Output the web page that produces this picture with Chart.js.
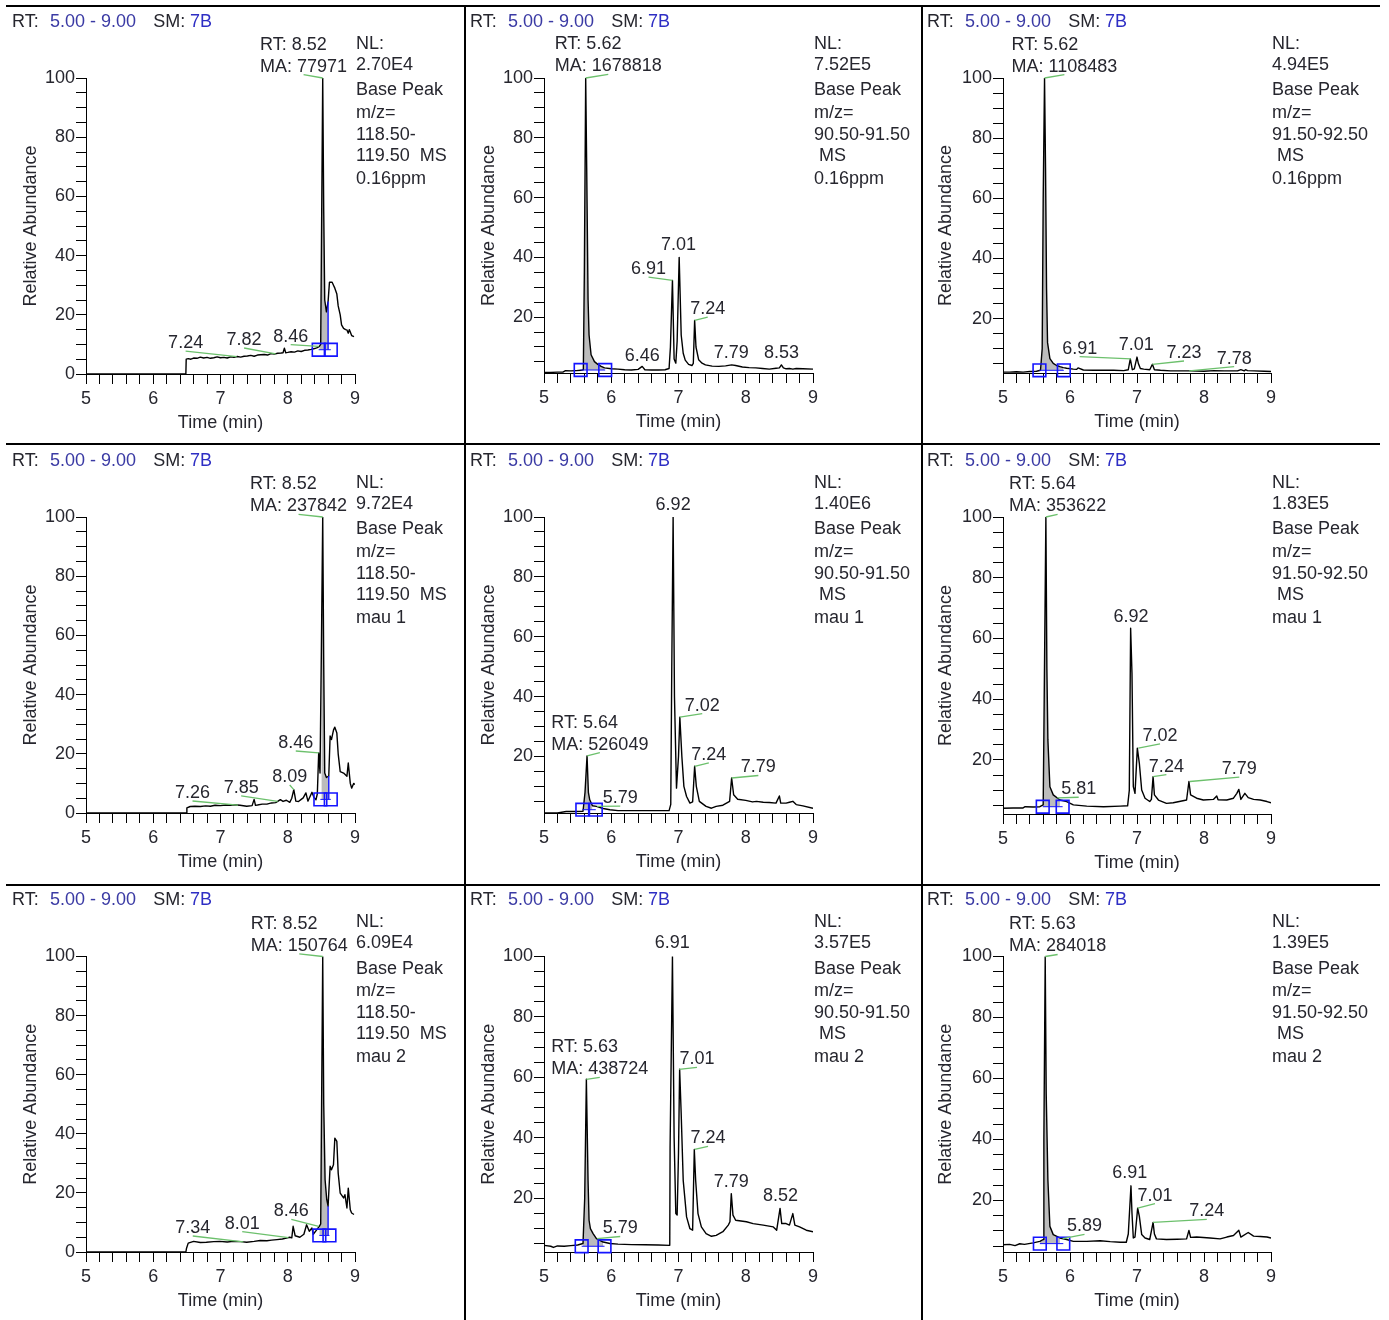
<!DOCTYPE html>
<html lang="en">
<head>
<meta charset="utf-8">
<title>Base peak chromatograms</title>
<script src="https://cdn.jsdelivr.net/npm/chart.js@4.4.1/dist/chart.umd.min.js"></script>
<style>
  body { margin: 0; background: #fff; }
  #wrap { position: relative; width: 1389px; height: 1320px; overflow: hidden; background: #fff; }
  #wrap canvas { position: absolute; }
  .rule { position: absolute; background: #000; }
</style>
</head>
<body>
<div id="wrap"></div>
<script>
// ---- data: retention time (min) / relative abundance (%) per panel ----
const t1 = [5.00, 6.485, 6.49, 6.52, 6.56, 6.60, 6.65, 6.70, 6.75, 6.80, 6.85, 6.90, 6.95, 7.00, 7.05, 7.10, 7.15, 7.20, 7.25, 7.30, 7.35, 7.40, 7.45, 7.50, 7.55, 7.60, 7.65, 7.70, 7.75, 7.80, 7.85, 7.90, 7.93, 7.95, 7.97, 8.00, 8.05, 8.10, 8.15, 8.20, 8.25, 8.30, 8.35, 8.40, 8.44, 8.47, 8.49, 8.505, 8.52, 8.535, 8.55, 8.575, 8.60, 8.62, 8.66, 8.68, 8.70, 8.73, 8.75, 8.78, 8.80, 8.83, 8.86, 8.88, 8.90, 8.915, 8.93, 8.95, 8.985];
const a1 = [0, 0, 5.0, 5.2, 5.0, 5.4, 5.3, 5.7, 5.4, 5.6, 5.3, 5.5, 5.8, 5.5, 5.6, 5.4, 5.8, 5.6, 5.9, 5.7, 6.0, 6.1, 6.3, 6.0, 6.4, 6.5, 6.6, 6.4, 6.9, 6.7, 7.0, 7.1, 7.2, 8.7, 7.2, 7.3, 7.5, 7.4, 7.8, 7.6, 8.0, 8.1, 8.3, 8.6, 8.9, 9.3, 10.0, 55, 100, 55, 25, 21, 24.5, 31, 31, 30, 29, 27, 23, 20, 16.6, 15.4, 15.0, 14.9, 13.8, 15.0, 14.2, 13.0, 12.6];

const t2 = [5.00, 5.10, 5.20, 5.28, 5.32, 5.40, 5.48, 5.55, 5.585, 5.60, 5.62, 5.635, 5.655, 5.67, 5.70, 5.75, 5.80, 5.85, 5.90, 6.00, 6.10, 6.20, 6.30, 6.40, 6.46, 6.50, 6.60, 6.70, 6.80, 6.86, 6.88, 6.91, 6.935, 6.96, 6.98, 7.01, 7.04, 7.07, 7.10, 7.15, 7.20, 7.22, 7.24, 7.26, 7.30, 7.35, 7.40, 7.50, 7.60, 7.70, 7.79, 7.85, 7.95, 8.05, 8.15, 8.25, 8.35, 8.45, 8.50, 8.53, 8.56, 8.60, 8.65, 8.70, 8.75, 8.85, 9.00];
const a2 = [1.5, 1.5, 1.6, 1.6, 2.1, 2.0, 2.1, 2.2, 2.4, 35, 100, 70, 26, 14, 7.4, 5.1, 4.2, 3.5, 3.0, 2.7, 2.6, 2.4, 2.3, 2.5, 3.5, 2.4, 2.3, 2.3, 2.4, 2.8, 10, 32.3, 6, 4.6, 12, 40, 14, 7.9, 5.6, 4.2, 3.8, 4.5, 18.9, 10, 5.7, 4.6, 4.0, 3.6, 3.5, 3.7, 4.0, 3.8, 3.3, 3.1, 3.0, 2.8, 2.6, 2.9, 3.0, 4.0, 3.0, 2.7, 2.8, 2.6, 2.8, 2.7, 2.6];

const t3 = [5.00, 5.10, 5.20, 5.30, 5.40, 5.50, 5.56, 5.585, 5.60, 5.62, 5.635, 5.65, 5.665, 5.70, 5.75, 5.80, 5.85, 5.90, 5.95, 6.05, 6.10, 6.12, 6.20, 6.35, 6.50, 6.65, 6.80, 6.87, 6.90, 6.93, 6.96, 7.00, 7.02, 7.05, 7.10, 7.19, 7.23, 7.26, 7.35, 7.50, 7.65, 7.80, 8.00, 8.15, 8.30, 8.50, 8.55, 8.60, 8.62, 8.65, 8.75, 8.90, 9.00];
const a3 = [2.2, 2.2, 2.3, 2.2, 2.4, 2.5, 2.8, 10, 60, 100, 70, 30, 12, 6.7, 5.1, 4.4, 4.0, 3.7, 3.5, 3.2, 3.1, 3.6, 2.9, 2.8, 2.8, 2.8, 2.7, 3.0, 6.6, 3.0, 3.3, 7.2, 5.1, 3.4, 3.2, 3.0, 4.8, 3.0, 2.8, 2.6, 2.6, 2.6, 2.5, 2.7, 2.6, 2.6, 3.0, 2.6, 3.0, 2.7, 2.6, 2.5, 2.4];

const t4 = [5.00, 6.49, 6.50, 6.55, 6.62, 6.70, 6.78, 6.85, 6.92, 7.00, 7.08, 7.15, 7.20, 7.29, 7.39, 7.47, 7.50, 7.52, 7.55, 7.62, 7.69, 7.76, 7.82, 7.85, 7.89, 7.93, 7.98, 8.03, 8.06, 8.09, 8.12, 8.16, 8.20, 8.23, 8.27, 8.30, 8.33, 8.36, 8.39, 8.42, 8.44, 8.46, 8.48, 8.50, 8.52, 8.535, 8.55, 8.575, 8.61, 8.63, 8.65, 8.68, 8.70, 8.73, 8.75, 8.78, 8.83, 8.88, 8.90, 8.93, 8.95, 8.98, 9.00];
const a4 = [0, 0, 1.7, 2.2, 2.3, 2.2, 2.4, 2.3, 2.6, 2.5, 2.7, 2.6, 2.8, 2.6, 2.3, 2.5, 4.6, 2.6, 2.7, 3.0, 3.0, 3.4, 3.5, 3.9, 4.5, 3.9, 4.3, 3.6, 5.0, 7.9, 4.0, 3.9, 4.6, 5.1, 6.8, 4.0, 5.5, 7.0, 5.2, 4.5, 6.5, 20.3, 13.5, 55, 100, 50, 13.5, 12, 12.5, 26, 24.8, 28, 29, 27, 20, 14, 13.5, 12.4, 16.9, 10, 8.4, 10, 9.6];

const t5 = [5.00, 5.20, 5.33, 5.45, 5.58, 5.61, 5.64, 5.66, 5.68, 5.72, 5.78, 5.88, 5.98, 6.10, 6.30, 6.50, 6.70, 6.86, 6.885, 6.90, 6.92, 6.94, 6.97, 7.00, 7.02, 7.05, 7.08, 7.12, 7.17, 7.21, 7.24, 7.265, 7.31, 7.41, 7.49, 7.56, 7.66, 7.76, 7.79, 7.82, 7.88, 8.00, 8.10, 8.16, 8.26, 8.35, 8.45, 8.50, 8.52, 8.60, 8.65, 8.70, 8.75, 8.85, 9.00];
const a5 = [1.1, 1.1, 1.6, 1.6, 1.7, 8, 20.2, 8, 5.5, 3.5, 3.3, 2.6, 2.2, 1.9, 1.9, 1.9, 1.9, 1.9, 4, 50, 100, 40, 9.4, 20, 33.1, 20, 10, 6.6, 4.4, 4.8, 16.7, 10, 5.0, 3.3, 2.7, 3.3, 3.7, 5.0, 12.8, 7.2, 5.7, 5.3, 4.8, 5.0, 4.7, 4.6, 4.4, 6.8, 4.4, 4.4, 4.7, 5.0, 3.9, 3.5, 2.7];

const t6 = [5.00, 5.15, 5.30, 5.33, 5.45, 5.55, 5.60, 5.615, 5.64, 5.655, 5.67, 5.70, 5.75, 5.85, 5.95, 6.05, 6.25, 6.50, 6.75, 6.86, 6.885, 6.905, 6.925, 6.945, 6.97, 7.005, 7.035, 7.07, 7.12, 7.19, 7.215, 7.24, 7.26, 7.32, 7.44, 7.54, 7.65, 7.74, 7.775, 7.80, 7.89, 7.99, 8.14, 8.19, 8.21, 8.34, 8.44, 8.49, 8.52, 8.55, 8.61, 8.66, 8.74, 8.84, 8.94, 9.00];
const a6 = [4.1, 4.2, 4.2, 4.6, 4.5, 4.6, 5.2, 40, 100, 50, 26.6, 11.2, 8.5, 6.8, 6.3, 5.2, 4.8, 4.6, 4.8, 4.9, 10, 63.4, 48.6, 11.2, 9.0, 23.9, 18.9, 10.1, 7.4, 6.3, 7, 14.5, 8.5, 6.8, 5.7, 5.9, 6.4, 6.8, 12.9, 8.5, 7.4, 6.8, 7.0, 8.1, 6.9, 6.8, 7.4, 9.0, 10.3, 7.0, 9.0, 7.6, 7.0, 6.8, 6.3, 5.9];

const t7 = [5.00, 6.485, 6.495, 6.52, 6.60, 6.70, 6.79, 6.90, 6.99, 7.10, 7.19, 7.30, 7.39, 7.50, 7.59, 7.69, 7.76, 7.84, 7.92, 7.98, 8.03, 8.06, 8.08, 8.11, 8.18, 8.24, 8.28, 8.32, 8.36, 8.38, 8.43, 8.47, 8.49, 8.505, 8.52, 8.535, 8.555, 8.58, 8.60, 8.63, 8.65, 8.68, 8.70, 8.73, 8.75, 8.78, 8.83, 8.85, 8.88, 8.90, 8.93, 8.95, 8.985];
const a7 = [0, 0, 1.3, 3.0, 3.6, 3.2, 3.3, 3.5, 3.6, 3.4, 3.6, 3.5, 3.3, 3.6, 3.9, 3.8, 4.0, 4.2, 4.4, 4.7, 5.0, 4.8, 8.7, 5.5, 5.0, 6.0, 9.2, 7.0, 8.1, 6.0, 7.5, 8.7, 9.5, 55, 100, 50, 24.5, 17.7, 15.5, 29, 27.8, 29.5, 38.5, 37.4, 26.7, 19.9, 18.3, 19.4, 14.9, 21.6, 14.3, 13.2, 12.7];

const t8 = [5.00, 5.10, 5.14, 5.20, 5.30, 5.40, 5.50, 5.58, 5.605, 5.63, 5.655, 5.67, 5.69, 5.73, 5.78, 5.88, 5.98, 6.10, 6.30, 6.50, 6.70, 6.87, 6.875, 6.91, 6.935, 6.96, 6.98, 7.00, 7.017, 7.04, 7.07, 7.12, 7.17, 7.21, 7.235, 7.255, 7.29, 7.34, 7.41, 7.49, 7.56, 7.66, 7.74, 7.765, 7.785, 7.81, 7.85, 8.01, 8.11, 8.26, 8.41, 8.46, 8.51, 8.535, 8.60, 8.65, 8.70, 8.73, 8.80, 8.90, 9.00];
const a8 = [4.5, 4.2, 3.8, 4.3, 4.2, 4.4, 4.6, 5.1, 20, 59.4, 26, 12.8, 10, 8.4, 6.7, 5.6, 5.1, 4.9, 4.75, 4.7, 4.6, 4.5, 37, 100, 40, 15, 14.5, 35, 62.7, 48, 26, 13.9, 10, 9.5, 36.2, 26, 15, 10.6, 8.4, 7.5, 7.8, 9.0, 11.2, 12.3, 21.6, 14.5, 12.8, 12.3, 11.7, 11.2, 10.6, 9.5, 16.7, 11.7, 11.7, 11.2, 15, 11.2, 10.6, 9.5, 9.0];

const t9 = [5.00, 5.10, 5.18, 5.25, 5.32, 5.45, 5.55, 5.60, 5.61, 5.63, 5.645, 5.67, 5.70, 5.75, 5.85, 5.95, 6.05, 6.25, 6.45, 6.60, 6.75, 6.84, 6.87, 6.91, 6.925, 6.945, 6.97, 7.01, 7.035, 7.07, 7.12, 7.19, 7.24, 7.26, 7.29, 7.44, 7.60, 7.74, 7.775, 7.80, 7.89, 8.09, 8.24, 8.34, 8.44, 8.52, 8.55, 8.66, 8.74, 8.84, 8.94, 9.00];
const a9 = [5.5, 5.6, 5.2, 5.8, 5.6, 6.1, 6.6, 7.2, 40, 100, 55, 26.8, 11.5, 8.8, 7.7, 7.2, 6.6, 6.6, 6.8, 6.5, 6.3, 6.3, 9, 24.8, 15.9, 7.7, 8.0, 17.5, 14.8, 8.8, 7.7, 7.2, 12.8, 9, 7.4, 7.2, 7.3, 7.4, 10.2, 7.9, 8.0, 7.7, 7.4, 8.0, 8.5, 10.2, 8.0, 9.5, 8.3, 8.2, 8.0, 7.7];

// labelled peak retention times
const peaks1 = [7.24, 7.82, 8.46];
const peaks2 = [6.46, 6.91, 7.01, 7.24, 7.79, 8.53];
const peaks3 = [6.91, 7.01, 7.23, 7.78];
const peaks4 = [7.26, 7.85, 8.09, 8.46];
const peaks5 = [5.79, 6.92, 7.02, 7.24, 7.79];
const peaks6 = [5.81, 6.92, 7.02, 7.24, 7.79];
const peaks7 = [7.34, 8.01, 8.46];
const peaks8 = [5.79, 6.91, 7.01, 7.24, 7.79, 8.52];
const peaks9 = [5.89, 6.91, 7.01, 7.24];

// integrated peak: RT, area, start/end, baseline level, drop line
const maRt = [8.52, 5.62, 5.62, 8.52, 5.64, 5.64, 8.52, 5.63, 5.63];
const maArea = [77971, 1678818, 1108483, 237842, 526049, 353622, 150764, 438724, 284018];
const areaStart = [8.46, 5.545, 5.544, 8.485, 5.57, 5.593, 8.47, 5.56, 5.55];
const areaEnd = [8.64, 5.91, 5.908, 8.64, 5.77, 5.89, 8.62, 5.90, 5.90];
const areaBase = [8.2, 2.3, 2.8, 4.6, 2.2, 4.6, 5.6, 4.2, 5.85];
const dropRt = [8.60, null, null, 8.61, null, null, 8.60, null, null];

// side text
const nlValue = ['2.70E4', '7.52E5', '4.94E5', '9.72E4', '1.40E6', '1.83E5', '6.09E4', '3.57E5', '1.39E5'];
const mzLine1 = ['118.50-', '90.50-91.50', '91.50-92.50', '118.50-', '90.50-91.50', '91.50-92.50', '118.50-', '90.50-91.50', '91.50-92.50'];
const mzLine2 = ['119.50  MS', ' MS', ' MS', '119.50  MS', ' MS', ' MS', '119.50  MS', ' MS', ' MS'];
const sample = ['0.16ppm', '0.16ppm', '0.16ppm', 'mau 1', 'mau 1', 'mau 1', 'mau 2', 'mau 2', 'mau 2'];
const rtRange = '5.00 - 9.00';
const smooth = '7B';

// axis ticks
const xTickMarks = [5.0, 5.2, 5.4, 5.6, 5.8, 6.0, 6.2, 6.4, 6.6, 6.8, 7.0, 7.2, 7.4, 7.6, 7.8, 8.0, 8.2, 8.4, 8.6, 8.8, 9.0];
const yTickMarks = [0, 5, 10, 15, 20, 25, 30, 35, 40, 45, 50, 55, 60, 65, 70, 75, 80, 85, 90, 95, 100];
const yMin = [0, 1.3, 1.9, 0, 1.1, 2.2, 0, 2.3, 3.1];

// ---- layout / style ----
const times = [t1, t2, t3, t4, t5, t6, t7, t8, t9];
const abund = [a1, a2, a3, a4, a5, a6, a7, a8, a9];
const peaks = [peaks1, peaks2, peaks3, peaks4, peaks5, peaks6, peaks7, peaks8, peaks9];

// label centre offsets from the peak apex, px
const place = [
  [[-51, -13.5], [-31.6, -13.8], [-28, -9.8]],
  [[0, -10.4], [-23.9, -11.2], [-0.7, -12.5], [13.1, -11.2], [-0.3, -12.3], [0, -12.3]],
  [[-51.3, -10.3], [-1.4, -11.8], [31.6, -11.3], [44.9, -12.3]],
  [[-45.5, -12.1], [-36.5, -13.5], [-4.1, -12.6], [-22.9, -9.9]],
  [[23.1, -8.3], [0, -12.3], [22.4, -11.5], [14.2, -11.5], [26.7, -10.5]],
  [[21.4, -8.7], [-0.7, -11.6], [21.7, -12.2], [13.3, -10], [49.4, -12.3]],
  [[-50.6, -13.9], [-46.2, -13.9], [-27.4, -14.9]],
  [[23.1, -10.2], [-0.2, -13.4], [17.8, -10], [13.4, -11.1], [-0.3, -11.8], [-0.2, -12.3]],
  [[21.9, -12.3], [-1.3, -12.7], [17.3, -12.4], [53.7, -11]]
];
// MA block: left edge / MA line centre from apex
const maPlace = [[-62.7, -11.3], [-31, -11.6], [-33, -11.3], [-72.7, -10.6], [-35.7, -11.1], [-36.8, -10.6], [-72, -10.7], [-35.1, -10], [-36.1, -10]];

const colX = [0, 465, 923], colW = [464, 457, 466];
const rowY = [7, 446, 886], cellH = 436;
const areaL = [86, 544, 1003], areaR = [355, 813, 1271], areaT = [78, 517, 956.5];
const areaB = [374, 373, 373, 813, 813, 814, 1252, 1252, 1252];
const YW = 70, XH = 60;
const yTitlePad = [4.2, 4.2, 2.2];
const headDx = [74, 74, 76];
const nlOffsets = [-34, -13, 12.5, 35, 57, 78, 101];

const textColor = '#26262e';
const blue = '#1414ff';
const green = '#6cc06c';
const FONT = '"Liberation Sans", Arial, sans-serif';

Chart.defaults.font.family = FONT;
Chart.defaults.font.size = 18;
Chart.defaults.color = textColor;
Chart.defaults.animation = false;

function interp(T, A, t) {
  for (let k = 1; k < T.length; k++) {
    if (T[k] >= t) {
      const f = (t - T[k - 1]) / (T[k] - T[k - 1]);
      return A[k - 1] + f * (A[k] - A[k - 1]);
    }
  }
  return A[A.length - 1];
}
// apex value used for a label: highest point close to the RT
function apexAt(T, A, t) {
  let best = null;
  for (let k = 0; k < T.length; k++) {
    if (Math.abs(T[k] - t) <= 0.016 && (best === null || A[k] > best)) best = A[k];
  }
  return best === null ? interp(T, A, t) : best;
}

const annotate = {
  id: 'annotate',
  afterDatasetsDraw(chart, args, opts) {
    const i = opts.panel, col = i % 3;
    const T = times[i], A = abund[i];
    const ctx = chart.ctx, xs = chart.scales.x, ys = chart.scales.y, ca = chart.chartArea;
    ctx.save();
    ctx.font = '18px ' + FONT;
    ctx.textBaseline = 'middle';
    ctx.textAlign = 'left';

    // header line
    const hx = ca.left - headDx[col], hy = ca.top - 56;
    [['RT:', textColor, 0], [rtRange, '#3a3aa4', 38], ['SM:', textColor, 141.3], [smooth, '#2e2ec4', 178]]
      .forEach(([s, c, off]) => { ctx.fillStyle = c; ctx.fillText(s, hx + off, hy); });

    // NL block
    ctx.fillStyle = textColor;
    ['NL:', nlValue[i], 'Base Peak', 'm/z=', mzLine1[i], mzLine2[i], sample[i]]
      .forEach((s, k) => ctx.fillText(s, ca.right + 1, ca.top + nlOffsets[k]));

    ctx.strokeStyle = green;
    ctx.lineWidth = 1.3;
    const leader = (x0, y0, x1, y1) => {
      ctx.beginPath(); ctx.moveTo(x0, y0); ctx.lineTo(x1, y1); ctx.stroke();
    };

    // integrated peak label
    const mx = xs.getPixelForValue(maRt[i]);
    const my = ys.getPixelForValue(apexAt(T, A, maRt[i]));
    const left = mx + maPlace[i][0], maY = my + maPlace[i][1];
    const maText = 'MA: ' + maArea[i];
    const w = ctx.measureText(maText).width;
    leader(mx, my, left + w / 2, maY + 8);
    ctx.fillStyle = textColor;
    ctx.fillText('RT: ' + maRt[i].toFixed(2), left, maY - 22);
    ctx.fillText(maText, left, maY);

    // peak labels
    ctx.textAlign = 'center';
    peaks[i].forEach((rt, k) => {
      const ax = xs.getPixelForValue(rt), ay = ys.getPixelForValue(apexAt(T, A, rt));
      const cx = ax + place[i][k][0], cy = ay + place[i][k][1];
      if (Math.abs(place[i][k][0]) > 3) leader(ax, ay, cx, cy + 8);
      ctx.fillText(rt.toFixed(2), cx, cy);
    });
    ctx.restore();
  }
};

const wrap = document.getElementById('wrap');

function buildPanel(i) {
  const col = i % 3, row = Math.floor(i / 3);
  const canvas = document.createElement('canvas');
  canvas.width = colW[col];
  canvas.height = cellH;
  canvas.style.left = colX[col] + 'px';
  canvas.style.top = rowY[row] + 'px';
  wrap.appendChild(canvas);

  const T = times[i], A = abund[i];
  const pts = T.map((t, k) => ({ x: t, y: A[k] }));
  const fillEnd = dropRt[i] !== null ? dropRt[i] : areaEnd[i];
  const areaPts = pts.filter(p => p.x >= areaStart[i] && p.x <= fillEnd);

  const datasets = [
    { data: pts, borderColor: '#000', borderWidth: 1.4, borderJoinStyle: 'round', pointRadius: 0, tension: 0, fill: false, order: 2 },
    { data: areaPts, borderColor: 'rgba(0,0,0,0)', backgroundColor: '#bcbcbc', pointRadius: 0, tension: 0, fill: { value: areaBase[i] }, order: 3 },
    { data: [{ x: areaStart[i], y: areaBase[i] }, { x: areaEnd[i], y: areaBase[i] }],
      borderColor: blue, borderWidth: 1, pointStyle: 'rect', pointRadius: 9, pointBorderWidth: 1.6,
      pointBorderColor: blue, pointBackgroundColor: 'rgba(0,0,0,0)', fill: false, clip: false, order: 1 }
  ];
  if (dropRt[i] !== null) {
    datasets.push({ data: [{ x: dropRt[i], y: areaBase[i] }, { x: dropRt[i], y: interp(T, A, dropRt[i]) }],
      borderColor: blue, borderWidth: 1.4, pointRadius: 0, fill: false, order: 1 });
  }

  new Chart(canvas, {
    type: 'line',
    data: { datasets: datasets },
    options: {
      responsive: false,
      animation: false,
      events: [],
      layout: {
        padding: {
          left: areaL[col] - colX[col] - YW,
          top: areaT[row] - rowY[row],
          right: colX[col] + colW[col] - areaR[col],
          bottom: rowY[row] + cellH - areaB[i] - XH
        }
      },
      plugins: { legend: { display: false }, tooltip: { enabled: false }, annotate: { panel: i } },
      scales: {
        x: {
          type: 'linear', min: 5, max: 9,
          afterBuildTicks: s => { s.ticks = xTickMarks.map(v => ({ value: v })); },
          afterFit: s => { s.height = XH; },
          ticks: {
            autoSkip: false, maxRotation: 0, minRotation: 0, padding: 4, color: textColor,
            callback: v => Math.abs(v - Math.round(v)) < 1e-6 ? String(Math.round(v)) : ''
          },
          grid: { drawOnChartArea: false, drawTicks: true, tickLength: 10, color: '#000', lineWidth: 1 },
          border: { color: '#000', width: 1 },
          title: { display: true, text: 'Time (min)', color: textColor, padding: { top: 0, bottom: 0 } }
        },
        y: {
          type: 'linear', min: yMin[i], max: 100,
          afterBuildTicks: s => { s.ticks = yTickMarks.filter(v => v >= yMin[i] - 1e-9).map(v => ({ value: v })); },
          afterFit: s => { s.width = YW; },
          ticks: {
            autoSkip: false, padding: 1, color: textColor,
            callback: v => (v % 20 === 0 ? String(v) : '')
          },
          grid: { drawOnChartArea: false, drawTicks: true, tickLength: 10, color: '#000', lineWidth: 1 },
          border: { color: '#000', width: 1 },
          title: { display: true, text: 'Relative Abundance', color: textColor, padding: { top: yTitlePad[col], bottom: 0 } }
        }
      }
    },
    plugins: [annotate]
  });
}

for (let i = 0; i < 9; i++) buildPanel(i);

// panel frame lines
[[6, 5, 1374, 2], [6, 443, 1374, 2], [6, 884, 1374, 2], [464, 5, 2, 1315], [921, 5, 2, 1315]]
  .forEach(([x, y, w, h]) => {
    const d = document.createElement('div');
    d.className = 'rule';
    d.style.left = x + 'px'; d.style.top = y + 'px';
    d.style.width = w + 'px'; d.style.height = h + 'px';
    wrap.appendChild(d);
  });
</script>
</body>
</html>
